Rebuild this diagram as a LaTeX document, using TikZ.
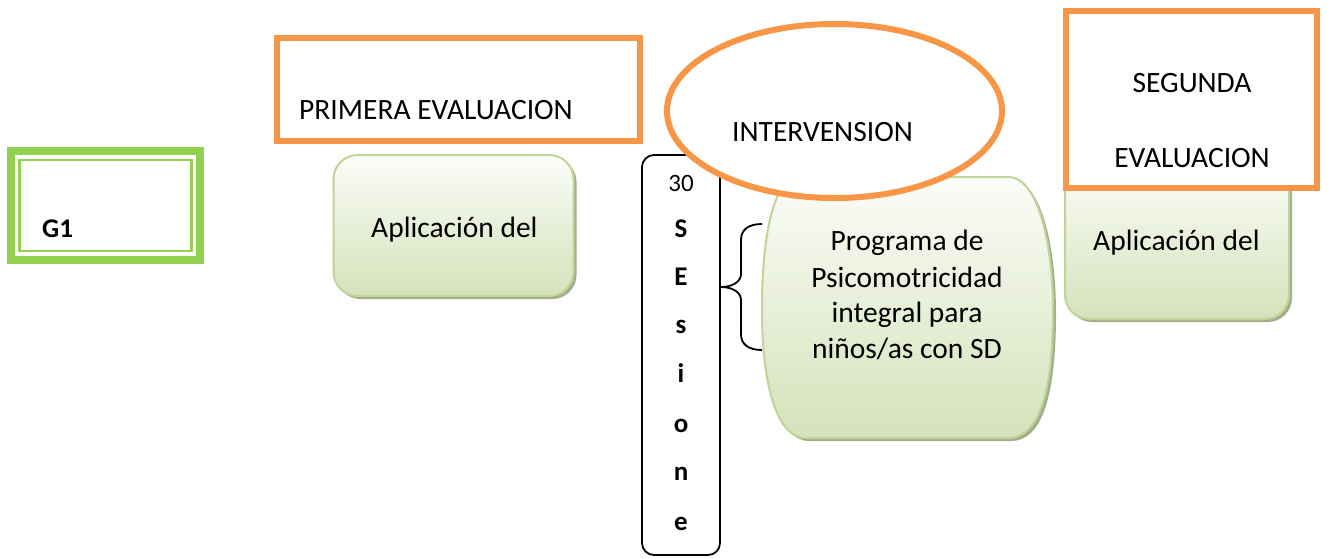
\documentclass[tikz,border=0pt]{standalone}
\usepackage{fontspec}
\setmainfont{Carlito}
\usetikzlibrary{shapes.geometric,shadows}
\definecolor{gg}{HTML}{92D050}
\definecolor{org}{HTML}{F79646}
\definecolor{gbord}{HTML}{BFD496}
\definecolor{gtop}{HTML}{FBFCF8}
\definecolor{gbot}{HTML}{D5E2BA}
\definecolor{gshad}{HTML}{A3AE8C}
\tikzset{
  txt/.style={inner sep=0pt,font=\fontsize{29.5}{36}\selectfont},
  btxt/.style={inner sep=0pt,font=\bfseries\fontsize{27}{32}\selectfont},
  rtxt/.style={inner sep=0pt,font=\fontsize{25}{30}\selectfont},
  obox/.style={draw=org,line width=6pt,fill=white,rectangle,inner sep=0pt},
  gbox/.style={draw=gbord,line width=2pt,rectangle,rounded corners=24pt,inner sep=0pt,
    top color=gtop,bottom color=gbot,
    drop shadow={shadow xshift=3pt,shadow yshift=-3pt,fill=gshad,opacity=1}},
}
\begin{document}
\begin{tikzpicture}[x=1pt,y=-1pt]
\useasboundingbox[fill=white] (0,0) rectangle (1327,558);
% G1 box
\node[draw=gg,line width=8pt,minimum width=189pt,minimum height=109pt,inner sep=0pt] (g1) at (105.5,205.5) {};
\node[draw=gg,line width=2.5pt,minimum width=172pt,minimum height=91pt,inner sep=0pt] (g1in) at (g1.center) {};
\node[btxt,anchor=base west] (g1t) at (42,237) {G1};
% first evaluation
\node[gbox,minimum width=240pt,minimum height=141pt] (ap1) at (453.5,225.5) {};
\node[txt,anchor=base west] (ap1t) at (371,237) {Aplicación del};
\node[obox,minimum width=363pt,minimum height=103pt] (pe) at (458.5,89.5) {};
\node[txt,anchor=base west] (pet) at (299,119) {PRIMERA EVALUACION};
% sessions box
\node[draw=black,line width=1.8pt,rounded corners=12pt,minimum width=78pt,minimum height=400pt,inner sep=0pt] (ses) at (681,355) {};
\node[rtxt,anchor=base] (s0) at (681,191) {30};
\node[btxt,anchor=base] (s1) at (681,237) {S};
\node[btxt,anchor=base] (s2) at (681,285) {E};
\node[btxt,anchor=base] (s3) at (681,333) {s};
\node[btxt,anchor=base] (s4) at (681,382) {i};
\node[btxt,anchor=base] (s5) at (681,432) {o};
\node[btxt,anchor=base] (s6) at (681,480) {n};
\node[btxt,anchor=base] (s7) at (681,530) {e};
% brace
\coordinate (bt) at (762,224);
\coordinate (bb) at (762,350);
\coordinate (tip) at (ses.east |- 0,287);
\draw[line width=1.8pt] (bt) .. controls (748,224) and (741,230) .. (741,240) -- (741,274)
   .. controls (741,282) and (732,287) .. (tip)
   .. controls (732,287) and (741,292) .. (741,300) -- (741,334)
   .. controls (741,344) and (748,350) .. (bb);
% program shape
\fill[gshad,shift={(3,3)}] (800,177) -- (1008,177) .. controls (1040,177) and (1053,250) .. (1053,310)
  .. controls (1053,390) and (1040,438) .. (1008,438) -- (806,438)
  .. controls (775,438) and (762,380) .. (762,310) .. controls (762,240) and (772,177) .. (800,177) -- cycle;
\path[draw=gbord,line width=2pt,top color=gtop,bottom color=gbot] (800,177) -- (1008,177) .. controls (1040,177) and (1053,250) .. (1053,310)
  .. controls (1053,390) and (1040,438) .. (1008,438) -- (806,438)
  .. controls (775,438) and (762,380) .. (762,310) .. controls (762,240) and (772,177) .. (800,177) -- cycle;
\node[txt,anchor=base] (p1) at (907,250) {Programa de};
\node[txt,anchor=base] (p2) at (907,287) {Psicomotricidad};
\node[txt,anchor=base] (p3) at (907,322) {integral para};
\node[txt,anchor=base] (p4) at (907,358) {niños/as con SD};
% second evaluation
\node[gbox,minimum width=224pt,minimum height=153pt] (ap2) at (1177,242.5) {};
\node[txt,anchor=base west] (ap2t) at (1093,250) {Aplicación del};
\node[obox,minimum width=251pt,minimum height=177pt] (se) at (1191.5,99.5) {};
\node[txt,anchor=base] (se1) at (1192,92) {SEGUNDA};
\node[txt,anchor=base] (se2) at (1192,167) {EVALUACION};
% intervention ellipse
\node[ellipse,draw=org,line width=6pt,fill=white,minimum width=335pt,minimum height=174pt,inner sep=0pt] (int) at (834.5,111) {};
\node[txt,anchor=base west] (intt) at (732,141) {INTERVENSION};
\end{tikzpicture}
\end{document}
